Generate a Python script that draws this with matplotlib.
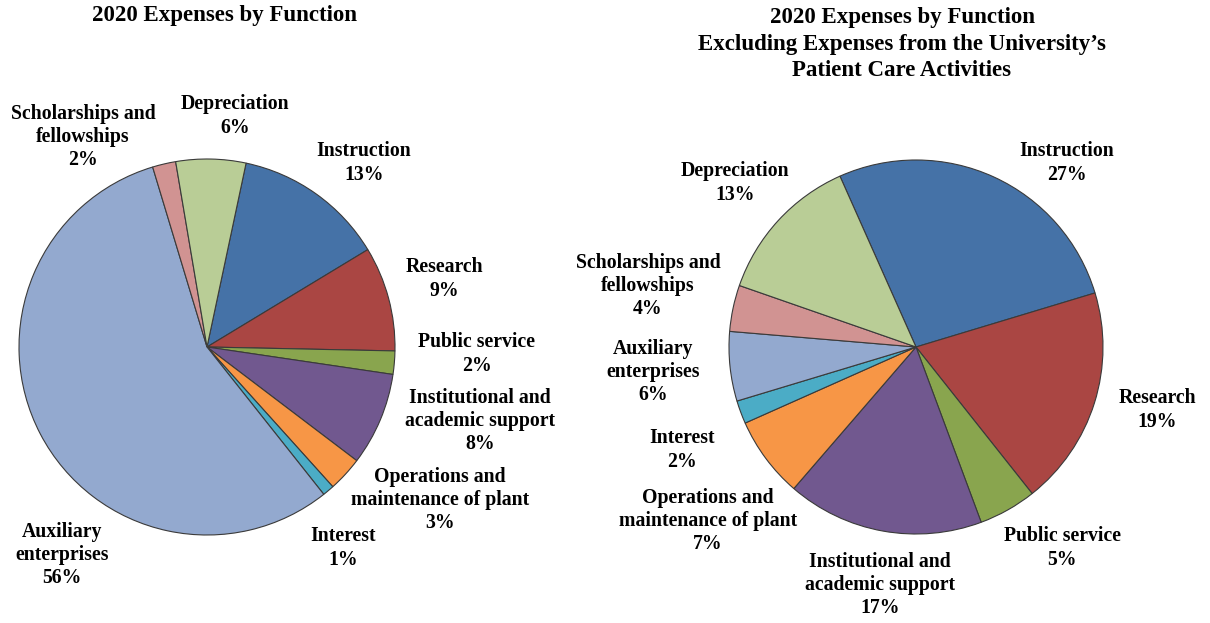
import matplotlib.pyplot as plt

plt.rcParams['font.family'] = ['Liberation Serif', 'DejaVu Serif']
plt.rcParams['font.weight'] = 'bold'

# slices in clockwise order starting at Instruction
categories = ['Instruction', 'Research', 'Public service',
              'Institutional and\nacademic support',
              'Operations and\nmaintenance of plant', 'Interest',
              'Auxiliary\nenterprises', 'Scholarships and\nfellowships',
              'Depreciation']
left_values = [13, 9, 2, 8, 3, 1, 56, 2, 6]
right_values = [27, 19, 5, 17, 7, 2, 6, 4, 13]

colors = ['#4572A7', '#AA4643', '#89A54E', '#71588F', '#F79646',
          '#4BACC6', '#93A9CF', '#D19392', '#B9CD96']

left_title = '2020 Expenses by Function'
right_title = ('2020 Expenses by Function\nExcluding Expenses from the University\u2019s\n'
               'Patient Care Activities')

# label centres in pixel space (x, y from top)
left_label_pos = [(364, 163), (444, 279), (477, 354), (480, 421), (440, 500),
                  (343, 548), (62, 555), (83, 137), (235, 116)]
right_label_pos = [(1067, 163), (1157, 410), (1062, 548), (880, 585), (708, 521),
                   (682, 450), (653, 372), (648, 286), (735, 183)]

W, H = 1210, 623
fig = plt.figure(figsize=(W / 100, H / 100), dpi=100)
ax = fig.add_axes([0, 0, 1, 1])
ax.set_xlim(0, W)
ax.set_ylim(0, H)
ax.set_aspect('equal')
ax.axis('off')


def draw_pie(values, cx, cy, r, start, label_pos):
    ax.pie(values, colors=colors, center=(cx, H - cy), radius=r,
           startangle=start, counterclock=False,
           wedgeprops=dict(edgecolor='#3a3a3a', linewidth=0.8))
    for name, v, (lx, ly) in zip(categories, values, label_pos):
        ax.text(lx, H - ly, f'{name}\n{v}%', ha='center', va='center',
                fontsize=14.2, fontweight='bold', linespacing=1.22)


draw_pie(left_values, 207, 347, 188, 78, left_label_pos)
draw_pie(right_values, 916, 347, 187, 114, right_label_pos)

ax.text(225, H - 16, left_title, ha='center', va='center', fontsize=16.5,
        fontweight='bold')
ax.text(902, H - 7, right_title, ha='center', va='top', fontsize=16.5,
        fontweight='bold', linespacing=1.35)

ax.set_xlim(0, W)
ax.set_ylim(0, H)
fig.savefig('out.png', dpi=100)
